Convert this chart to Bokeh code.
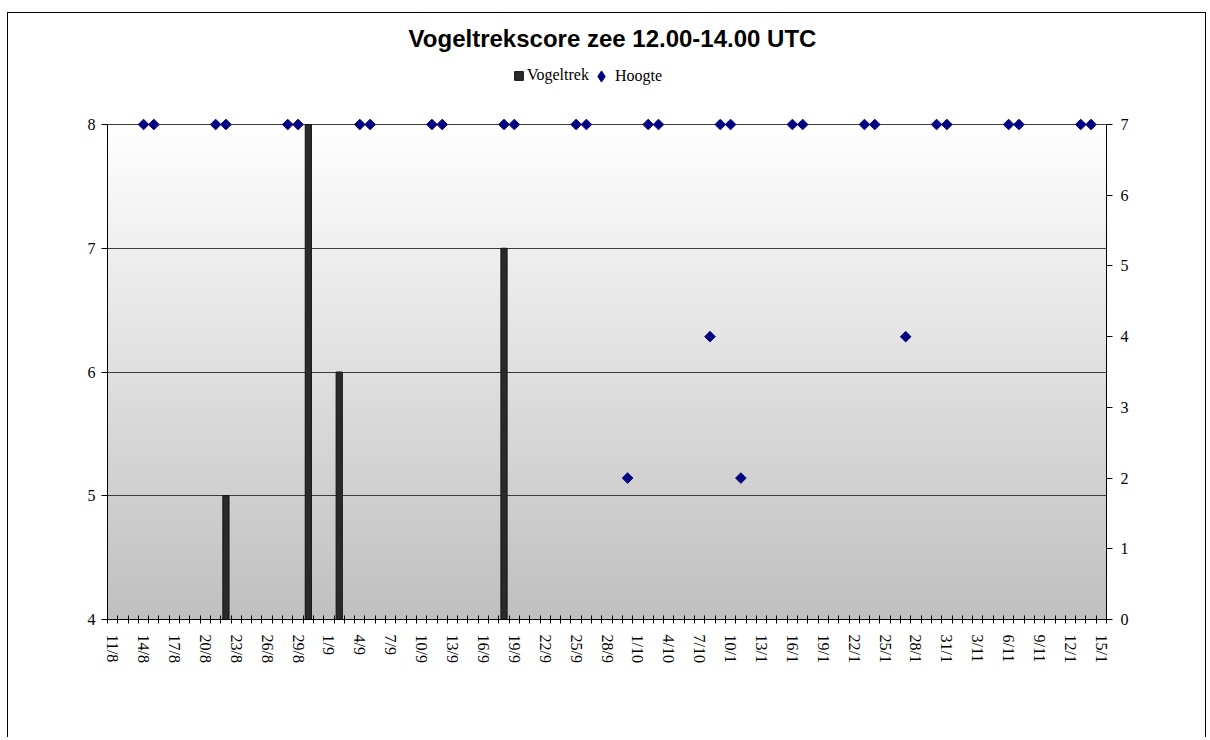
import numpy as np
import pandas as pd
from bokeh.plotting import figure
from bokeh.models import (Range1d, LinearAxis, FixedTicker, Legend, LegendItem, Label)
from bokeh.embed import file_html
from bokeh.resources import INLINE

# ---- data ----
days = [f"{d.day}/{d.month}" for d in pd.date_range("2006-08-11", "2006-11-15")]
tick_labels = ["11/8", "14/8", "17/8", "20/8", "23/8", "26/8", "29/8", "1/9", "4/9",
               "7/9", "10/9", "13/9", "16/9", "19/9", "22/9", "25/9", "28/9", "1/10",
               "4/10", "7/10", "10/1", "13/1", "16/1", "19/1", "22/1", "25/1", "28/1",
               "31/1", "3/11", "6/11", "9/11", "12/1", "15/1"]

trek_dates = ["22/8", "30/8", "2/9", "18/9"]
trek_scores = [5, 8, 6, 7]

hoogte_dates = ["14/8", "15/8", "21/8", "22/8", "28/8", "29/8", "4/9", "5/9",
                "11/9", "12/9", "18/9", "19/9", "25/9", "26/9", "30/9", "2/10", "3/10",
                "8/10", "9/10", "10/10", "11/10", "16/10", "17/10", "23/10", "24/10",
                "27/10", "30/10", "31/10", "6/11", "7/11", "13/11", "14/11"]
hoogte_values = [7, 7, 7, 7, 7, 7, 7, 7,
                 7, 7, 7, 7, 7, 7, 2, 7, 7,
                 4, 7, 7, 2, 7, 7, 7, 7,
                 4, 7, 7, 7, 7, 7, 7]

left_range = (4, 8)
right_range = (0, 7)

# ---- layout ----
idx = {d: i for i, d in enumerate(days)}
n_days = len(days)
W, H = 1199, 725
FONT_SERIF = "Liberation Serif"
FONT_SANS = "Liberation Sans"

canvas_top = 13
plot_top, plot_bottom = 124, 619          # page y of values 8 / 4
frame_top = 20                            # frame extends up to hold title & legend
data_h = plot_bottom - plot_top
head = plot_top - frame_top
left_pad = head * (left_range[1] - left_range[0]) / data_h
right_pad = head * (right_range[1] - right_range[0]) / data_h

p = figure(width=W, height=H, output_backend="svg", toolbar_location=None,
           x_range=Range1d(-0.5, n_days - 0.5),
           y_range=Range1d(left_range[0], left_range[1] + left_pad),
           min_border_left=99, min_border_right=101,
           min_border_top=frame_top - canvas_top,
           min_border_bottom=canvas_top + H - plot_bottom)
p.outline_line_color = None
p.background_fill_color = "white"
p.border_fill_color = "white"
p.styles = {"border-left": "1px solid black", "border-top": "1px solid black",
            "border-right": "1px solid black", "margin-top": "12px", "margin-left": "7px"}

# gradient background of plot area
ng = 256
g = np.linspace(192, 255, ng).astype(np.uint8)
img = np.empty((ng, 1), dtype=np.uint32)
view = img.view(dtype=np.uint8).reshape((ng, 1, 4))
view[:, 0, 0] = g
view[:, 0, 1] = g
view[:, 0, 2] = g
view[:, 0, 3] = 255
bg = p.image_rgba(image=[img], x=p.x_range.start, y=left_range[0],
                  dw=p.x_range.end - p.x_range.start, dh=left_range[1] - left_range[0])
bg.level = "image"

# grid
p.xgrid.visible = False
p.ygrid.ticker = FixedTicker(ticks=list(range(left_range[0] + 1, left_range[1] + 1)))
p.ygrid.grid_line_color = "#3c3c3c"
p.ygrid.grid_line_width = 1

# bars
bars = p.vbar(x=[idx[d] for d in trek_dates], top=trek_scores, bottom=left_range[0],
              width=0.6, fill_color="#2a2a2a", line_color="#111111", line_width=1)

# right range and diamonds
hx = [idx[d] for d in hoogte_dates]
p.extra_y_ranges = {"h": Range1d(right_range[0], right_range[1] + right_pad)}
pts = p.scatter(x=hx, y=hoogte_values, y_range_name="h",
                marker="square", angle=np.pi / 4, size=7.5,
                fill_color="#000080", line_color="#000080")
# legend key glyph (diamond symbol), not drawn in the plot itself
pts_key = p.scatter(x=hx, y=hoogte_values, y_range_name="h", marker="diamond",
                    fill_color="#000080", line_color="#000080", visible=False)

# axes styling
def style_axis(ax):
    ax.axis_line_color = "black"
    ax.major_tick_line_color = "black"
    ax.minor_tick_line_color = "black"
    ax.major_label_text_font = FONT_SERIF
    ax.major_label_text_font_size = "16px"
    ax.major_label_text_color = "black"

ly = p.yaxis[0]
ly.ticker = FixedTicker(ticks=list(range(left_range[0], left_range[1] + 1)))
ly.bounds = left_range
ly.major_tick_out = 6
ly.major_tick_in = 0
ly.minor_tick_out = 0
ly.minor_tick_in = 0
ly.major_label_standoff = 6
style_axis(ly)

ry = LinearAxis(y_range_name="h", ticker=FixedTicker(ticks=list(range(right_range[0], right_range[1] + 1))))
ry.bounds = right_range
ry.major_tick_out = 6
ry.major_tick_in = 0
ry.minor_tick_out = 0
ry.minor_tick_in = 0
ry.major_label_standoff = 8
style_axis(ry)
p.add_layout(ry, "right")

label_pos = list(range(0, n_days, 3))
bx = p.xaxis[0]
bx.ticker = FixedTicker(ticks=label_pos, minor_ticks=[i - 0.5 for i in range(n_days + 1)])
bx.major_tick_in = 0
bx.major_tick_out = 0
bx.minor_tick_in = 4
bx.minor_tick_out = 4
bx.major_label_standoff = 11
bx.major_label_orientation = "vertical"
bx.major_label_overrides = {pos: lab for pos, lab in zip(label_pos, tick_labels)}
style_axis(bx)

# title (inside the extended frame, above the plotting area)
frame_left = 107
title = Label(x=612 - frame_left, y=plot_bottom - 38, x_units="screen", y_units="screen",
              text="Vogeltrekscore zee 12.00-14.00 UTC", text_align="center",
              text_baseline="middle", text_font=FONT_SANS, text_font_style="bold",
              text_font_size="24px", text_color="black")
p.add_layout(title)

legend_style = dict(orientation="horizontal", border_line_alpha=0, background_fill_alpha=0,
                    label_text_font=FONT_SERIF, label_text_font_size="16px",
                    label_text_color="black", padding=0, margin=0)
leg1 = Legend(items=[LegendItem(label="Vogeltrek", renderers=[bars])],
              location=(513 - frame_left, plot_bottom - 84),
              glyph_width=11, glyph_height=11, label_standoff=3, label_height=16,
              **legend_style)
leg2 = Legend(items=[LegendItem(label="Hoogte", renderers=[pts_key])],
              location=(587 - frame_left, plot_bottom - 90),
              glyph_width=28, glyph_height=28, label_standoff=-3, label_height=28,
              **legend_style)
p.add_layout(leg1)
p.add_layout(leg2)

open("out.html", "w").write(file_html(p, INLINE))
